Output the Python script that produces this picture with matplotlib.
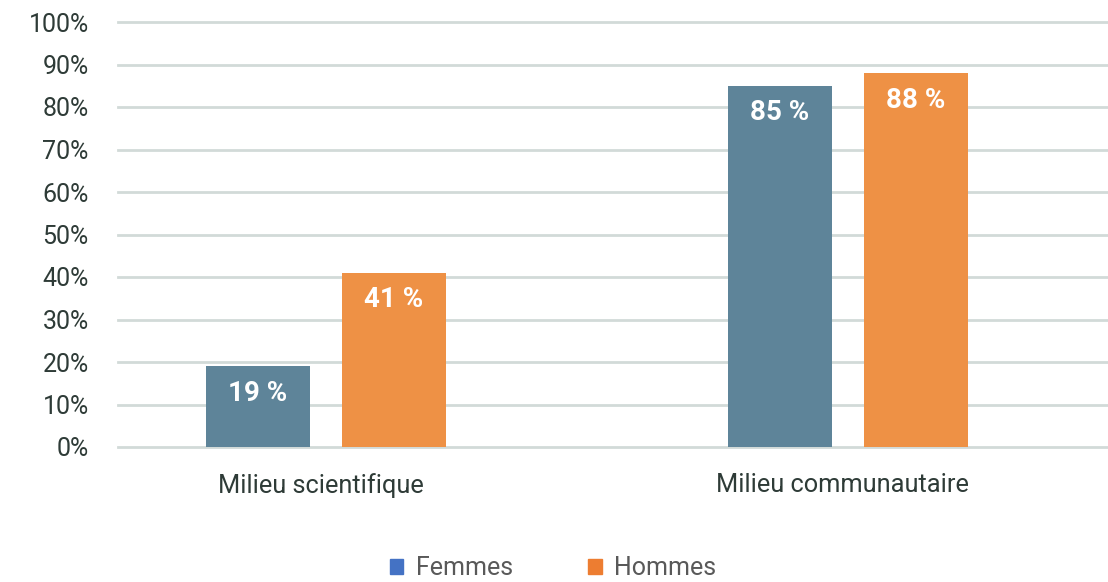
import matplotlib.pyplot as plt
import numpy as np
from matplotlib.patches import Patch

categories = ["Milieu scientifique", "Milieu communautaire"]
femmes = [19, 85]
hommes = [41, 88]
yticks = [0, 10, 20, 30, 40, 50, 60, 70, 80, 90, 100]

plt.rcParams['font.family'] = ['Roboto', 'DejaVu Sans']
text_col = "#2E3B37"

fig = plt.figure(figsize=(11.08, 5.82), dpi=100)
ax = fig.add_axes([118 / 1108, 1 - 447 / 582, 1 - 118 / 1108, (447 - 22) / 582])

x = np.arange(len(categories))
w = 0.2
gap = 0.061
b1 = ax.bar(x - (w + gap) / 2, femmes, w, color="#5E8499", zorder=3)
b2 = ax.bar(x + (w + gap) / 2, hommes, w, color="#EE9145", zorder=3)

for bars in (b1, b2):
    for r in bars:
        ax.annotate(f"{r.get_height():.0f} %", (r.get_x() + r.get_width() / 2, r.get_height()),
                    xytext=(0, -27), textcoords="offset pixels", ha="center", va="center",
                    color="white", fontsize=20, fontweight="bold", zorder=4)

ax.set_ylim(0, 100)
ax.set_xlim(-208 / 522, 1 + 260 / 522)
ax.set_yticks(yticks)
ax.set_yticklabels([f"{v}%" for v in yticks], fontsize=18, color=text_col)
ax.set_xticks(x - 0.01)
ax.set_xticklabels(categories, fontsize=18.3, color=text_col)
ax.tick_params(axis="both", length=0)
ax.tick_params(axis="y", pad=21)
ax.tick_params(axis="x", pad=19)
ax.grid(axis="y", color="#D2DAD8", linewidth=2, zorder=0)
ax.grid(axis="x", visible=False)
for s in ax.spines.values():
    s.set_visible(False)
for gl in ax.get_ygridlines():
    gl.set_clip_on(False)

handles = [Patch(color="#4472C4", label="Femmes"), Patch(color="#ED7D31", label="Hommes")]
fig.legend(handles=handles, loc="center", bbox_to_anchor=(553 / 1108, 1 - 568 / 582), ncol=2,
           frameon=False, fontsize=18, handlelength=0.55, handleheight=0.55, columnspacing=3.0,
           handletextpad=0.5, labelcolor="#595959")

fig.savefig("out.png", dpi=100)
